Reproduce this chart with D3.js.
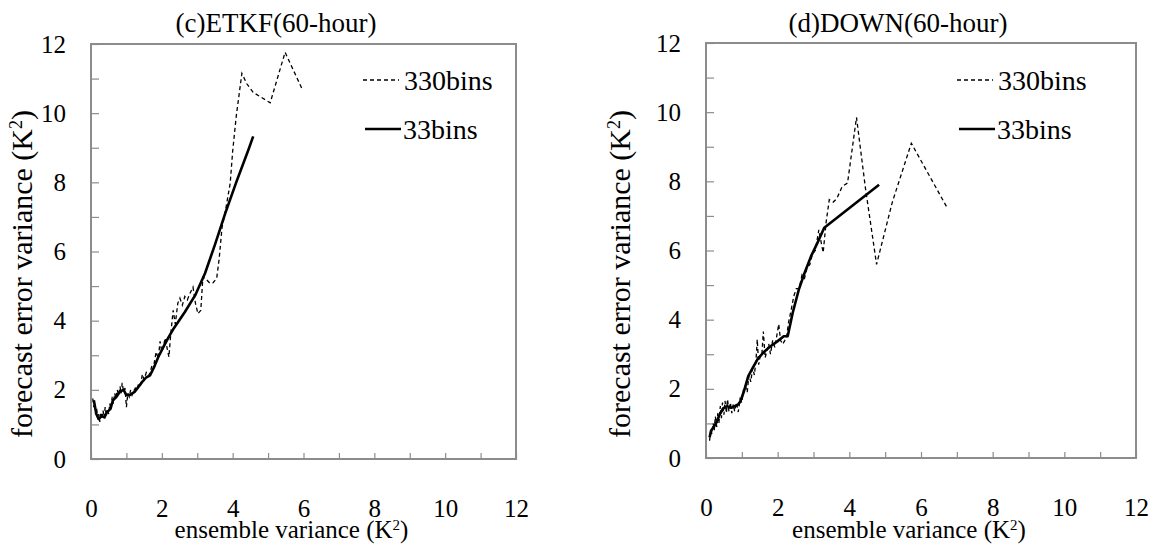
<!DOCTYPE html>
<html>
<head>
<meta charset="utf-8">
<script src="https://cdn.jsdelivr.net/npm/d3@7"></script>
<style>
  body { margin: 0; background: #fff; }
</style>
</head>
<body>
<div id="chart"></div>
<script>
// ---- data ----
const xTicks = [0, 1, 2, 3, 4, 5, 6, 7, 8, 9, 10, 11, 12];
const yTicks = [0, 1, 2, 3, 4, 5, 6, 7, 8, 9, 10, 11, 12];
const seriesNames = ["330bins", "33bins"];

// (c) ETKF, 330 bins  [ensemble variance, forecast error variance]
const etkf330 = [
  [0.05,1.75],[0.08,1.5],[0.1,1.6],[0.13,1.3],[0.16,1.45],[0.19,1.15],[0.22,1.3],[0.25,1.07],
  [0.28,1.35],[0.31,1.15],[0.34,1.4],[0.37,1.2],[0.4,1.5],[0.43,1.25],[0.46,1.45],[0.5,1.3],
  [0.53,1.6],[0.56,1.45],[0.6,1.8],[0.63,1.6],[0.67,1.9],[0.7,1.75],[0.74,2.0],[0.78,1.85],
  [0.82,2.1],[0.85,1.9],[0.88,2.2],[0.92,1.95],[0.96,2.05],[1.0,1.5],[1.04,1.9],[1.08,1.8],
  [1.12,2.0],[1.16,1.85],[1.2,1.95],[1.25,2.05],[1.3,2.0],[1.35,2.2],[1.4,2.15],[1.45,2.45],
  [1.5,2.3],[1.56,2.5],[1.62,2.4],[1.67,2.5],[1.72,2.7],[1.78,2.75],[1.84,3.1],[1.9,2.9],
  [1.95,3.4],[2.0,3.1],[2.05,3.3],[2.1,3.5],[2.15,3.2],[2.2,2.95],[2.25,3.6],[2.32,4.3],
  [2.38,3.9],[2.45,4.5],[2.51,4.65],[2.58,4.45],[2.65,4.7],[2.72,4.6],[2.8,4.8],[2.88,4.97],
  [2.95,4.5],[3.02,4.2],[3.1,4.3],[3.16,5.26],[3.25,5.2],[3.36,5.08],[3.45,5.1],[3.55,5.23],
  [3.62,5.8],[3.7,6.7],[3.8,7.2],[3.93,7.97],[4.0,8.9],[4.1,9.9],[4.26,11.15],[4.4,10.85],
  [4.58,10.6],[5.06,10.3],[5.48,11.76],[5.96,10.7]
];
// (c) ETKF, 33 bins
const etkf33 = [
  [0.08,1.7],[0.15,1.3],[0.22,1.15],[0.3,1.25],[0.38,1.2],[0.45,1.35],[0.55,1.45],[0.62,1.7],
  [0.72,1.8],[0.82,1.95],[0.92,2.0],[1.0,1.85],[1.1,1.85],[1.24,1.95],[1.35,2.1],[1.44,2.22],
  [1.55,2.35],[1.67,2.42],[1.8,2.7],[1.9,2.95],[2.05,3.25],[2.18,3.5],[2.32,3.75],[2.46,3.96],
  [2.65,4.25],[2.94,4.73],[3.22,5.37],[3.5,6.2],[3.79,7.1],[4.1,8.0],[4.44,8.93],[4.58,9.33]
];
// (d) DOWN, 330 bins
const down330 = [
  [0.1,0.5],[0.13,0.85],[0.16,0.7],[0.2,1.0],[0.23,0.8],[0.26,1.2],[0.3,0.9],[0.33,1.3],
  [0.36,1.0],[0.4,1.5],[0.43,1.15],[0.46,1.6],[0.5,1.25],[0.53,1.65],[0.57,1.3],[0.6,1.7],
  [0.64,1.35],[0.68,1.6],[0.72,1.3],[0.76,1.55],[0.8,1.35],[0.85,1.6],[0.9,1.33],[0.95,1.7],
  [1.0,1.6],[1.05,2.0],[1.1,2.08],[1.15,1.9],[1.2,2.4],[1.25,2.2],[1.3,2.6],[1.35,2.4],
  [1.4,2.9],[1.43,3.43],[1.47,2.7],[1.52,3.0],[1.56,3.0],[1.6,3.66],[1.65,2.9],[1.7,3.1],
  [1.75,3.3],[1.8,3.0],[1.86,3.4],[1.92,3.2],[1.97,3.5],[2.03,3.87],[2.08,3.4],[2.14,3.29],
  [2.2,3.4],[2.25,3.5],[2.3,3.9],[2.38,4.3],[2.45,4.68],[2.52,4.9],[2.6,4.9],[2.68,5.3],
  [2.75,5.2],[2.82,5.5],[2.9,5.6],[2.97,5.9],[3.05,6.0],[3.1,6.3],[3.15,6.6],[3.22,6.2],
  [3.27,5.94],[3.35,6.8],[3.44,7.47],[3.55,7.4],[3.65,7.5],[3.8,7.85],[3.95,7.95],[4.2,9.85],
  [4.45,7.8],[4.76,5.6],[5.2,7.4],[5.73,9.1],[6.75,7.2]
];
// (d) DOWN, 33 bins
const down33 = [
  [0.1,0.6],[0.15,0.8],[0.22,0.9],[0.3,1.05],[0.4,1.3],[0.5,1.45],[0.59,1.5],[0.7,1.45],
  [0.8,1.5],[0.9,1.55],[0.96,1.64],[1.05,1.9],[1.18,2.37],[1.3,2.6],[1.44,2.86],[1.6,3.05],
  [1.8,3.23],[2.0,3.38],[2.17,3.52],[2.28,3.52],[2.42,4.2],[2.59,4.87],[2.75,5.35],[2.93,5.83],
  [3.1,6.2],[3.3,6.66],[4.83,7.9]
];

const width = 1156, height = 547;
const serif = "Liberation Serif";

const svg = d3.select("#chart").append("svg")
  .attr("width", width)
  .attr("height", height);

const panels = [
  { title: "(c)ETKF(60-hour)", dense: etkf330, coarse: etkf33, titleX: 276,
    left: 91, right: 516, top: 44, bottom: 459, legendX: 363, ylabX: 32 },
  { title: "(d)DOWN(60-hour)", dense: down330, coarse: down33, titleX: 898,
    left: 706, right: 1136, top: 43, bottom: 458, legendX: 957, ylabX: 630 }
];

const axisColor = "#8c8c8c";

function superLabel(sel, text, size) {
  // text followed by (K²) with a raised 2
  sel.append("tspan").text(text + "(K");
  sel.append("tspan").attr("baseline-shift", "super").attr("font-size", size).text("2");
  sel.append("tspan").text(")");
}

panels.forEach(p => {
  const x = d3.scaleLinear().domain([0, 12]).range([p.left, p.right]);
  const y = d3.scaleLinear().domain([0, 12]).range([p.bottom, p.top]);
  const g = svg.append("g");

  // x axis: ticks every 1 pointing inward, labels on even values
  const xAxis = g.append("g")
    .attr("transform", `translate(0,${p.bottom})`)
    .call(d3.axisBottom(x).tickValues(xTicks)
      .tickSizeInner(-6).tickSizeOuter(0).tickPadding(40)
      .tickFormat(d => d % 2 === 0 ? d : ""));
  xAxis.select(".domain").remove();
  xAxis.selectAll("line").attr("stroke", axisColor).attr("stroke-width", 1.2);
  xAxis.selectAll("text").attr("fill", "#000").attr("font-size", 25);

  const yAxis = g.append("g")
    .attr("transform", `translate(${p.left},0)`)
    .call(d3.axisLeft(y).tickValues(yTicks)
      .tickSizeInner(-8).tickSizeOuter(0).tickPadding(25)
      .tickFormat(d => d % 2 === 0 ? d : ""));
  yAxis.select(".domain").remove();
  yAxis.selectAll("line").attr("stroke", axisColor).attr("stroke-width", 1.2);
  yAxis.selectAll("text").attr("fill", "#000").attr("font-size", 25);

  // plot frame
  g.append("rect")
    .attr("x", x(0)).attr("y", y(12))
    .attr("width", x(12) - x(0)).attr("height", y(0) - y(12))
    .attr("fill", "none").attr("stroke", axisColor).attr("stroke-width", 2);

  const line = d3.line().x(d => x(d[0])).y(d => y(d[1]));

  g.append("path").datum(p.dense)
    .attr("d", line)
    .attr("fill", "none").attr("stroke", "#000")
    .attr("stroke-width", 1.3).attr("stroke-dasharray", "4,3");

  g.append("path").datum(p.coarse)
    .attr("d", line)
    .attr("fill", "none").attr("stroke", "#000")
    .attr("stroke-width", 2.6).attr("stroke-linejoin", "round");

  // title
  g.append("text")
    .attr("x", p.titleX).attr("y", 32)
    .attr("text-anchor", "middle").attr("font-size", 27)
    .text(p.title);

  // axis labels
  g.append("text")
    .attr("x", (p.left + p.right) / 2 - 12).attr("y", 538)
    .attr("text-anchor", "middle").attr("font-size", 25)
    .call(superLabel, "ensemble variance ", 15);

  g.append("text")
    .attr("transform", `translate(${p.ylabX},274) rotate(-90)`)
    .attr("text-anchor", "middle").attr("font-size", 30)
    .call(superLabel, "forecast error variance ", 18);

  // legend
  const lg = g.append("g").attr("transform", `translate(${p.legendX},0)`);
  lg.append("line").attr("x1", 0).attr("x2", 36).attr("y1", 80).attr("y2", 80)
    .attr("stroke", "#000").attr("stroke-width", 1.3).attr("stroke-dasharray", "4,3");
  lg.append("text").attr("x", 41).attr("y", 90).attr("font-size", 28).text(seriesNames[0]);
  lg.append("line").attr("x1", 2).attr("x2", 38).attr("y1", 129).attr("y2", 129)
    .attr("stroke", "#000").attr("stroke-width", 2.6);
  lg.append("text").attr("x", 40).attr("y", 139).attr("font-size", 28).text(seriesNames[1]);
});

// one serif face for every label, overriding the axis defaults
svg.selectAll("text").style("font-family", serif);
</script>
</body>
</html>
